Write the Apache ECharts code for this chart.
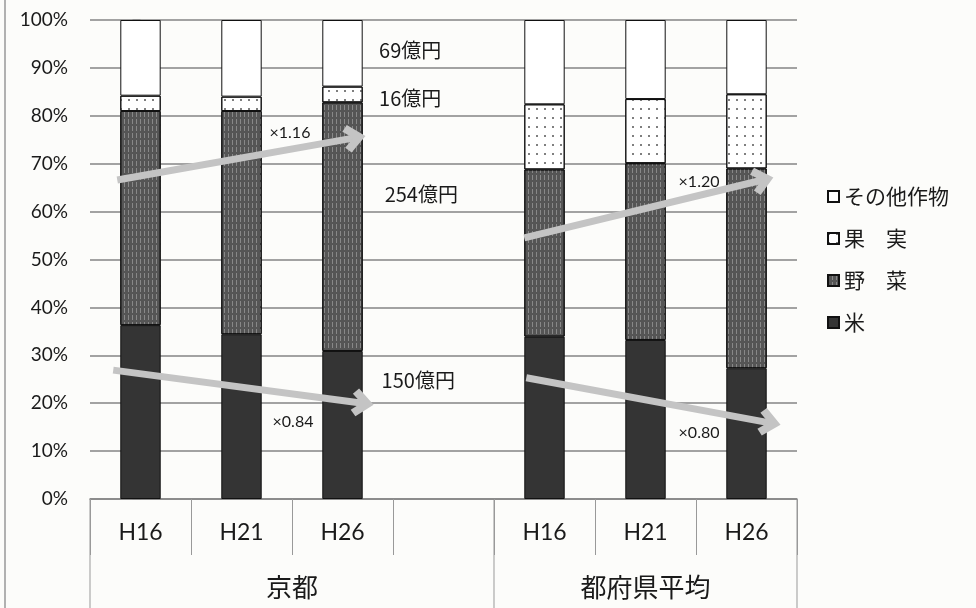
<!DOCTYPE html>
<html><head><meta charset="utf-8">
<script src="https://cdn.jsdelivr.net/npm/echarts@6/dist/echarts.min.js"></script>
<style>html,body{margin:0;padding:0;background:#fcfcfa}#c{width:976px;height:608px}</style>
</head><body><div id="c"></div>
<script>
// ---- data ----
const categories = ['H16', 'H21', 'H26', '', 'H16', 'H21', 'H26'];
const groupNames = ['京都', '都府県平均'];
const groupRanges = [[0, 3], [4, 6]];          // category index ranges of each group
const seriesNames = ['米', '野　菜', '果　実', 'その他作物'];
const rice       = [36.3, 34.4, 30.9, null, 33.9, 33.2, 27.3];
const vegetables = [44.7, 46.6, 51.9, null, 34.9, 36.9, 41.7];
const fruit      = [3.2, 3.0, 3.3, null, 13.6, 13.4, 15.5];
const others     = [15.8, 16.0, 13.9, null, 17.6, 16.5, 15.5];
const yTicks = [0, 10, 20, 30, 40, 50, 60, 70, 80, 90, 100];
// annotations (x = category index, y = percent)
const arrowStarts = [[-0.23, 66.6], [-0.27, 26.9], [3.80, 54.5], [3.82, 25.3]];
const arrowEnds   = [[2.12, 75.4], [2.20, 20.0], [6.16, 66.6], [6.23, 15.9]];
const ratioText   = ['×1.16', '×0.84', '×1.20', '×0.80'];
const ratioPos    = [[1.48, 76.4], [1.51, 16.1], [5.53, 66.2], [5.53, 13.8]];
const amountText  = ['69億円', '16億円', '254億円', '150億円'];
const amountPos   = [[2.67, 93.7], [2.67, 83.7], [2.78, 63.5], [2.75, 24.8]];

const CJK = '"Noto Sans CJK JP", "Noto Sans", sans-serif';
const NUM = 'Lato, "Noto Sans CJK JP", sans-serif';
const gridColor = '#858585';

const chart = echarts.init(document.getElementById('c'));
const barBase = {type: 'bar', stack: 'all', barWidth: '40%', xAxisIndex: 0, yAxisIndex: 0};
const labelBase = {show: true, position: 'inside', formatter: p => p.value[2], color: '#1a1a1a', textBorderWidth: 0, opacity: 1};
const option = {
  animation: false,
  backgroundColor: '#fcfcfa',
  grid: {left: 90, right: 179, top: 20, bottom: 109},
  legend: {
    orient: 'vertical', left: 822, top: 181,
    data: [seriesNames[3], seriesNames[2], seriesNames[1], seriesNames[0]],
    icon: 'rect', itemWidth: 11, itemHeight: 11, itemGap: 21,
    textStyle: {fontFamily: CJK, fontSize: 21, color: '#1a1a1a', lineHeight: 21, padding: [0, 0, 0, 0]}
  },
  xAxis: [{
    type: 'category', data: categories, position: 'bottom',
    axisLine: {lineStyle: {color: gridColor, width: 1.5}},
    axisTick: {show: true, interval: 0, length: 56, lineStyle: {color: '#999', width: 1}},
    axisLabel: {interval: 0, margin: 22, fontFamily: NUM, fontSize: 23, color: '#1a1a1a'}
  }, {
    type: 'value', min: -0.5, max: 6.5, show: false
  }],
  yAxis: {
    type: 'value', min: yTicks[0], max: yTicks[yTicks.length - 1], interval: 10,
    axisLine: {show: false},
    axisTick: {show: true, length: 8, lineStyle: {color: gridColor, width: 1.5}},
    axisLabel: {formatter: '{value}%', margin: 22, fontFamily: NUM, fontSize: 19, color: '#1a1a1a'},
    splitLine: {lineStyle: {color: gridColor, width: 1.5}}
  },
  series: [
    Object.assign({}, barBase, {name: seriesNames[0], data: rice,
      itemStyle: {color: '#343434', borderColor: '#111', borderWidth: 1}}),
    Object.assign({}, barBase, {name: seriesNames[1], data: vegetables,
      itemStyle: {color: '#555555', borderColor: '#111', borderWidth: 1,
        decal: {symbol: 'rect', symbolSize: 1, color: 'rgba(255,255,255,0.3)', dashArrayX: [1, 3], dashArrayY: [5, 2], rotation: 0}}}),
    Object.assign({}, barBase, {name: seriesNames[2], data: fruit,
      itemStyle: {color: '#ffffff', borderColor: '#111', borderWidth: 1,
        decal: {symbol: 'circle', symbolSize: 1, color: '#555', dashArrayX: [2, 6], dashArrayY: [2, 7], rotation: 0}}}),
    Object.assign({}, barBase, {name: seriesNames[3], data: others,
      itemStyle: {color: '#ffffff', borderColor: '#111', borderWidth: 1}}),
    {
      type: 'scatter', name: 'ratio', xAxisIndex: 1, yAxisIndex: 0, symbolSize: 0, silent: true, z: 10,
      itemStyle: {opacity: 1},
      data: ratioPos.map((p, i) => [p[0], p[1], ratioText[i]]),
      label: Object.assign({}, labelBase, {fontFamily: NUM, fontSize: 16}),
      markLine: {
        silent: true, z: 9,
        symbol: ['none', 'path://M0,12 L12,0 L24,12 L19,16 L12,9 L5,16 Z'], symbolSize: [28, 22],
        lineStyle: {color: '#c4c4c4', width: 7, type: 'solid', opacity: 1},
        itemStyle: {color: '#c4c4c4'},
        label: {show: false},
        data: arrowStarts.map((s, i) => [{coord: s}, {coord: arrowEnds[i]}])
      }
    },
    {
      type: 'scatter', name: 'amount', xAxisIndex: 1, yAxisIndex: 0, symbolSize: 0, silent: true, z: 10,
      itemStyle: {opacity: 1},
      data: amountPos.map((p, i) => [p[0], p[1], amountText[i]]),
      label: Object.assign({}, labelBase, {fontFamily: CJK, fontSize: 20})
    }
  ]
};
chart.setOption(option);

// axis group decoration
const px = (x, y) => chart.convertToPixel({xAxisIndex: 1, yAxisIndex: 0}, [x, y]);
const base = px(0, 0)[1];
const g = [];
const bounds = [groupRanges[0][0] - 0.5, groupRanges[1][0] - 0.5, groupRanges[1][1] + 0.5];
bounds.forEach(b => {
  const x = px(b, 0)[0];
  g.push({type: 'line', shape: {x1: x, y1: base, x2: x, y2: 608}, style: {stroke: '#999', lineWidth: 1}, silent: true});
});
groupNames.forEach((n, i) => {
  const c = px((groupRanges[i][0] + groupRanges[i][1]) / 2, 0)[0];
  g.push({type: 'text', x: c, y: base + 88, style: {text: n, fontFamily: CJK, fontSize: 26, fill: '#1a1a1a', align: 'center', verticalAlign: 'middle'}, silent: true});
});
g.push({type: 'line', shape: {x1: 5, y1: 0, x2: 5, y2: 608}, style: {stroke: '#999', lineWidth: 1.5}, silent: true});
chart.setOption({graphic: g});
</script></body></html>
